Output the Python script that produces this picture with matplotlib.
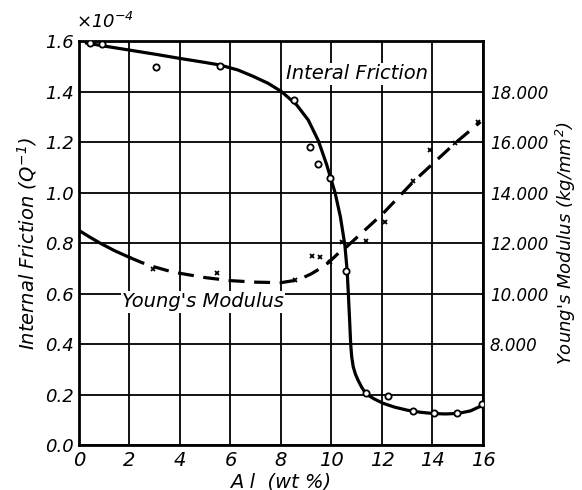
import numpy as np
import matplotlib.pyplot as plt
from matplotlib.ticker import FuncFormatter

# measured internal friction (x1e-4) vs Al wt%
if_al = [0.44, 0.91, 3.05, 5.58, 8.5, 9.15, 9.47, 9.94, 10.56, 11.37, 12.25, 13.21, 14.07, 14.98, 15.95]
if_q = [1.592, 1.590, 1.497, 1.500, 1.366, 1.180, 1.114, 1.059, 0.690, 0.205, 0.195, 0.135, 0.128, 0.125, 0.161]

# drawn internal friction curve
if_curve_al = [0.3, 1.0, 2.0, 3.0, 4.0, 5.0, 5.58, 6.3, 6.9, 7.5, 8.03, 8.62, 9.08, 9.48, 9.81, 10.14,
               10.35, 10.53, 10.62, 10.67, 10.72, 10.76, 10.8, 10.86, 10.95, 11.06, 11.2, 11.37,
               11.7, 12.05, 12.5, 13.0, 13.5, 14.0, 14.5, 15.0, 15.5, 16.0]
if_curve_q = [1.592, 1.580, 1.564, 1.548, 1.531, 1.515, 1.505, 1.485, 1.460, 1.432, 1.399, 1.347, 1.287,
              1.205, 1.110, 1.0, 0.905, 0.792, 0.69, 0.594, 0.49, 0.40, 0.35, 0.31, 0.28, 0.255,
              0.228, 0.202, 0.182, 0.165, 0.150, 0.138, 0.130, 0.125, 0.123, 0.125, 0.135, 0.158]

# measured Young's modulus (kg/mm2)
ym_al = [2.94, 5.48, 8.55, 9.21, 9.54, 9.94, 10.40, 11.37, 12.12, 13.24, 13.9, 14.89, 15.81]
ym_e = [10970, 10820, 10530, 11500, 11460, 11260, 12050, 12090, 12840, 14460, 15680, 15950, 16800]

# drawn Young's modulus curve (solid part, then dashed part)
ym_solid_al = [0.0, 0.4, 0.83, 1.4, 2.0]
ym_solid_e = [12500, 12250, 12000, 11700, 11430]
ym_dash_al = [2.0, 2.5, 3.0, 3.5, 4.0, 5.0, 6.0, 7.0, 8.0, 8.5, 8.9, 9.2, 9.5, 9.8, 10.1, 10.4, 10.6,
              12.05, 13.24, 14.89, 15.9]
ym_dash_e = [11430, 11220, 11050, 10910, 10800, 10630, 10510, 10450, 10430, 10510, 10640, 10780, 10960,
             11170, 11430, 11720, 11850, 13180, 14430, 15950, 16800]

x_ticks = [0, 2, 4, 6, 8, 10, 12, 14, 16]
q_ticks = [0.0, 0.2, 0.4, 0.6, 0.8, 1.0, 1.2, 1.4, 1.6]
e_ticks = [8000, 10000, 12000, 14000, 16000, 18000]

plt.rcParams['font.family'] = 'DejaVu Sans'
plt.rcParams['font.style'] = 'italic'

fig = plt.figure(figsize=(5.82, 4.90), dpi=100)
ax = fig.add_axes([0.1357, 0.0918, 0.6942, 0.8245])

ax.set_xlim(0, 16)
ax.set_ylim(0, 1.6)
ax.set_xticks(x_ticks)
ax.set_yticks(q_ticks)
ax.set_xticklabels([str(t) for t in x_ticks], fontsize=14, style='italic')
ax.set_yticklabels(['%.1f' % t for t in q_ticks], fontsize=13, style='italic')
ax.tick_params(length=0, pad=4)
ax.grid(True, color='black', lw=1.3)
for s in ax.spines.values():
    s.set_linewidth(2)

ax.plot(if_curve_al, if_curve_q, color='black', lw=2.3, zorder=3)
ax.plot(if_al, if_q, 'o', ms=4.5, mfc='white', mec='black', mew=1.3, zorder=4)

ax2 = ax.twinx()
ax2.set_ylim(4000, 20000)
ax2.set_yticks(e_ticks)
ax2.yaxis.set_major_formatter(FuncFormatter(lambda v, p: '%d.000' % (v // 1000)))
ax2.tick_params(length=0, pad=5, labelsize=12)
for s in ax2.spines.values():
    s.set_visible(False)

ax2.plot(ym_solid_al, ym_solid_e, color='black', lw=2.3, zorder=3)
ax2.plot(ym_dash_al, ym_dash_e, color='black', lw=2.3, dashes=(5, 3), zorder=3)
ax2.plot(ym_al, ym_e, 'x', ms=3.5, color='black', mew=1.3, zorder=4)

ax.text(8.2, 1.47, 'Interal Friction', fontsize=14, style='italic', va='center',
        bbox=dict(facecolor='white', edgecolor='none', pad=1), zorder=5)
ax.text(1.7, 0.567, "Young's Modulus", fontsize=14, style='italic', va='center',
        bbox=dict(facecolor='white', edgecolor='none', pad=1), zorder=5)

ax.set_xlabel('A l  (wt %)', fontsize=14, style='italic', labelpad=2)
ax.set_ylabel(r'Internal Friction $(Q^{-1})$', fontsize=14, style='italic', labelpad=4)
ax2.set_ylabel(r"Young's Modulus $(kg/mm^{2})$", fontsize=13, style='italic', labelpad=4)
fig.text(0.13, 0.955, r'$\times10^{-4}$', fontsize=13, ha='left', va='center')

fig.savefig('out.png', dpi=100)
